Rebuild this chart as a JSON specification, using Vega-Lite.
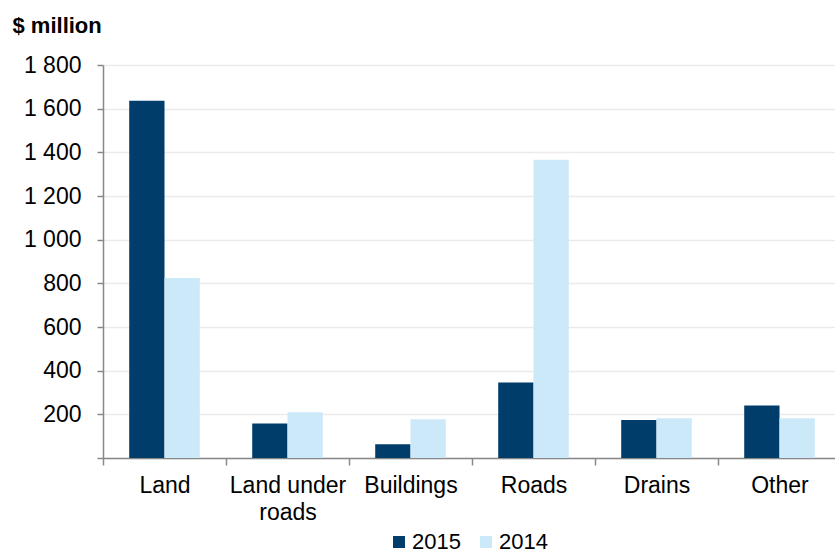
{
  "$schema": "https://vega.github.io/schema/vega-lite/v6.json",
  "autosize": {"type": "none"},
  "width": 732,
  "height": 393,
  "padding": {"left": 103, "top": 65, "right": 0, "bottom": 96},
  "background": "white",
  "config": {
    "view": {"stroke": null},
    "font": "Liberation Sans"
  },
  "data": {
    "values": [
      {"category": "Land", "year": "2015", "value": 1636},
      {"category": "Land", "year": "2014", "value": 824},
      {"category": "Land under roads", "year": "2015", "value": 158},
      {"category": "Land under roads", "year": "2014", "value": 210},
      {"category": "Buildings", "year": "2015", "value": 63},
      {"category": "Buildings", "year": "2014", "value": 178},
      {"category": "Roads", "year": "2015", "value": 346},
      {"category": "Roads", "year": "2014", "value": 1366},
      {"category": "Drains", "year": "2015", "value": 174},
      {"category": "Drains", "year": "2014", "value": 182},
      {"category": "Other", "year": "2015", "value": 240},
      {"category": "Other", "year": "2014", "value": 182}
    ]
  },
  "mark": {"type": "bar"},
  "encoding": {
    "x": {
      "field": "category",
      "type": "nominal",
      "sort": ["Land", "Land under roads", "Buildings", "Roads", "Drains", "Other"],
      "scale": {"paddingInner": 0, "paddingOuter": 0, "range": [0, 738]},
      "axis": {
        "title": null,
        "labelAngle": 0,
        "labelFontSize": 23,
        "labelColor": "#000000",
        "labelPadding": 9,
        "labelExpr": "datum.label == 'Land under roads' ? ['Land under', 'roads'] : datum.label",
        "labelLineHeight": 27,
        "labelBaseline": "top",
        "tickBand": "extent",
        "tickSize": 7,
        "tickColor": "#888888",
        "domainColor": "#888888",
        "domainWidth": 1.5,
        "tickWidth": 1.5,
        "grid": false
      }
    },
    "xOffset": {
      "field": "year",
      "type": "nominal",
      "sort": ["2015", "2014"],
      "scale": {"paddingInner": 0, "paddingOuter": 0.743}
    },
    "y": {
      "field": "value",
      "type": "quantitative",
      "scale": {"domain": [0, 1800], "nice": false},
      "axis": {
        "values": [0, 200, 400, 600, 800, 1000, 1200, 1400, 1600, 1800],
        "labelExpr": "datum.value == 0 ? '' : replace(format(datum.value, ','), ',', ' ')",
        "labelFontSize": 23,
        "labelColor": "#000000",
        "labelPadding": 16,
        "tickSize": 6,
        "tickColor": "#888888",
        "tickWidth": 1.5,
        "domainColor": "#888888",
        "domainWidth": 1.5,
        "gridColor": "#EBEBEB",
        "gridWidth": 1.5,
        "title": "$ million",
        "titleAngle": 0,
        "titleFontSize": 22,
        "titleFontWeight": "bold",
        "titleColor": "#000000",
        "titleAlign": "left",
        "titleBaseline": "alphabetic",
        "titleX": -91,
        "titleY": -33
      }
    },
    "color": {
      "field": "year",
      "type": "nominal",
      "sort": ["2015", "2014"],
      "scale": {"domain": ["2015", "2014"], "range": ["#003D6B", "#CCE9F9"]},
      "legend": {
        "title": null,
        "orient": "none",
        "direction": "horizontal",
        "legendX": 285,
        "legendY": 466,
        "symbolType": "square",
        "symbolSize": 144,
        "symbolStrokeWidth": 0,
        "symbolOpacity": 1,
        "labelFontSize": 22,
        "labelColor": "#000000",
        "labelOffset": 2,
        "columnPadding": 14
      }
    }
  }
}
